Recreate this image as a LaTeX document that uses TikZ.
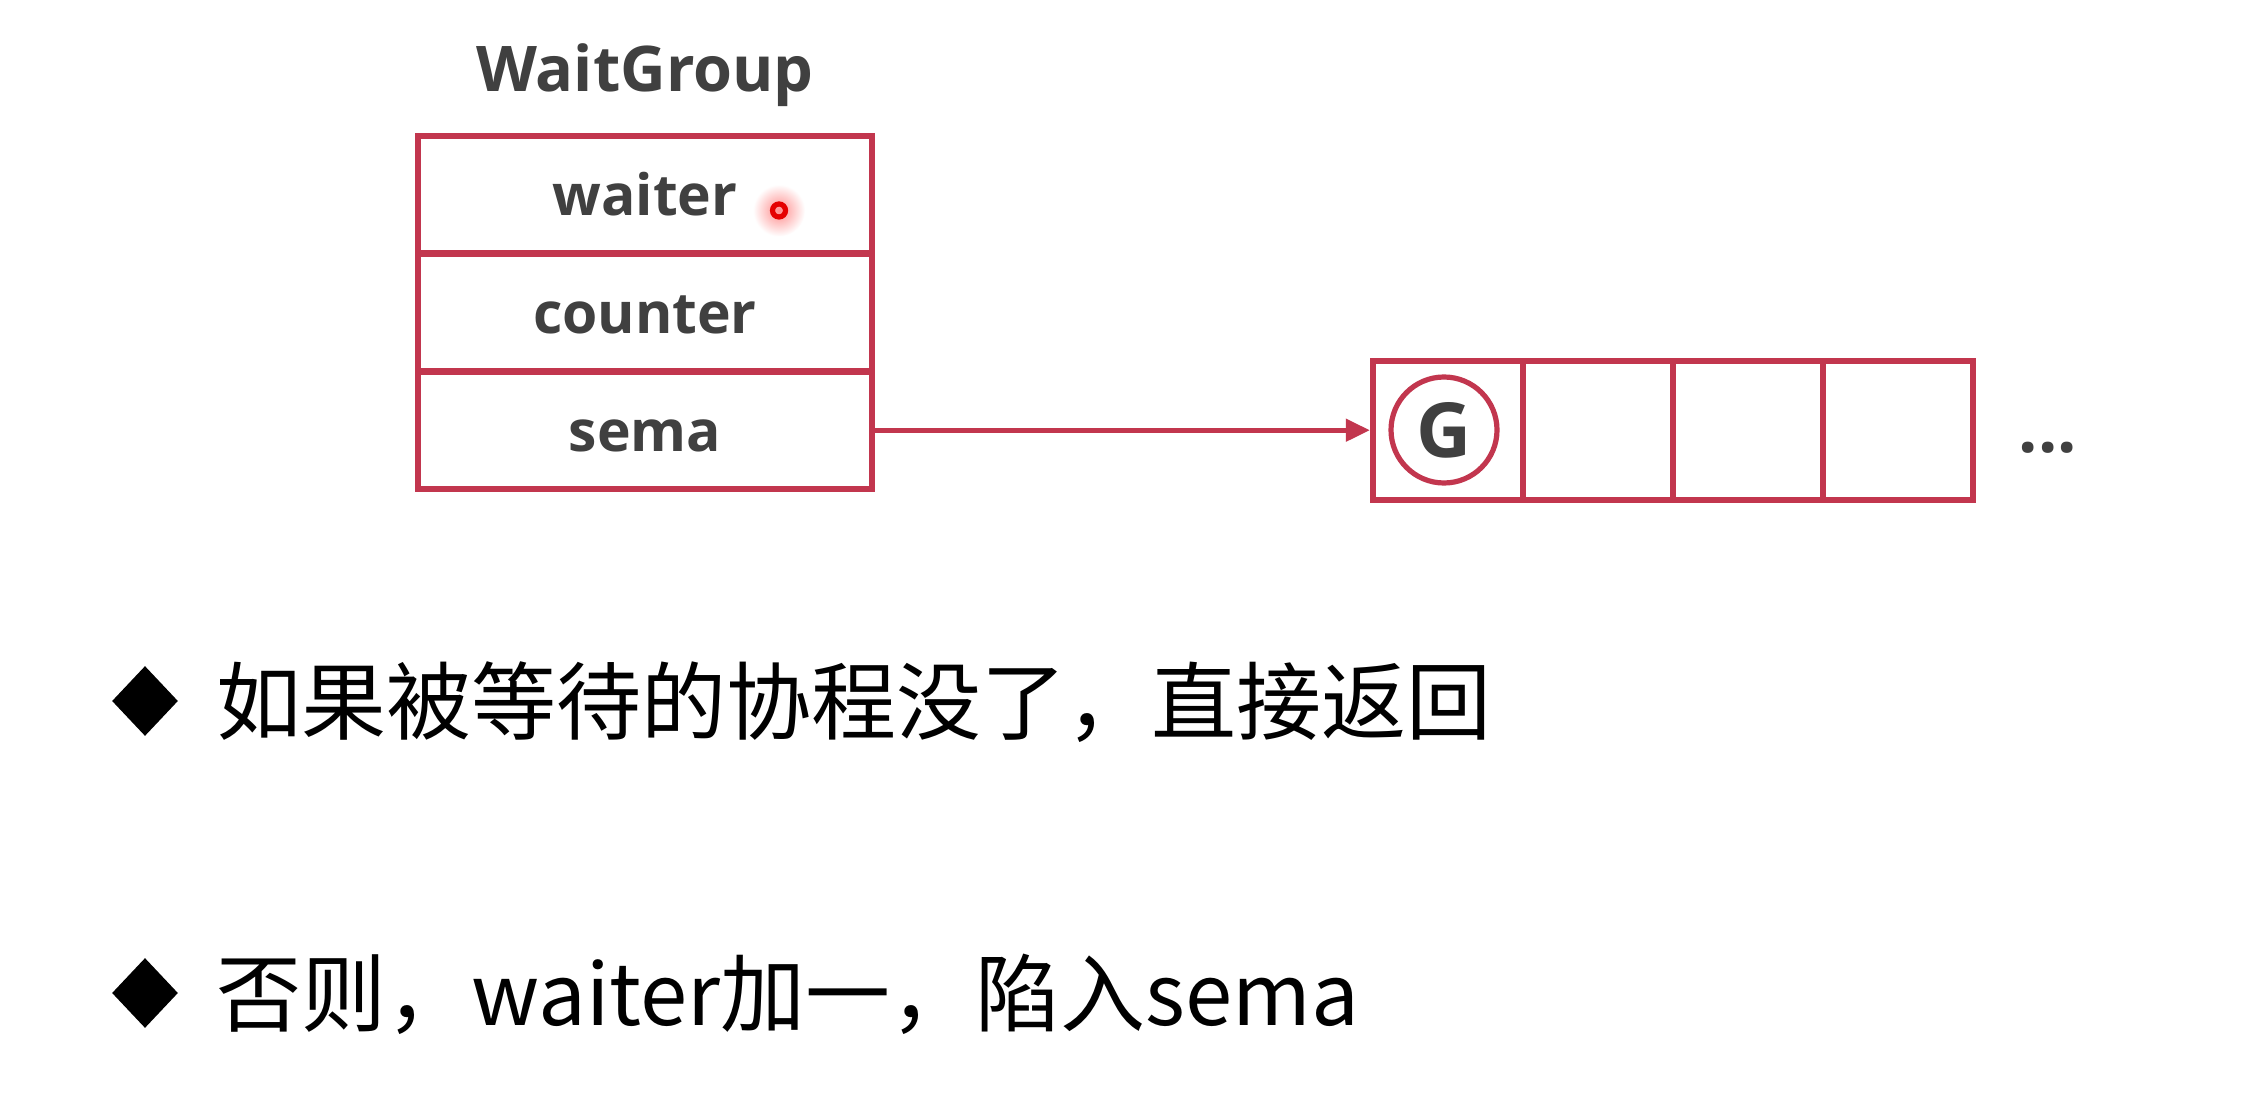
\documentclass[tikz,border=0pt]{standalone}
\usepackage{fontspec}
\setmainfont{Open Sans}
\newfontfamily\cjk{Noto Sans CJK SC}
\usetikzlibrary{shapes.geometric,arrows.meta}
\definecolor{wgred}{RGB}{194,54,78}
\definecolor{wgtext}{RGB}{64,64,64}
\begin{document}
\begin{tikzpicture}[x=0.5pt,y=-0.5pt,
  field/.style={draw=wgred, line width=3.2pt, minimum width=227pt, minimum height=58.8pt,
    inner sep=0pt, text height=21pt, text depth=0pt,
    font=\fontsize{28.5}{30}\selectfont\bfseries, text=wgtext},
  slot/.style={draw=wgred, line width=3.2pt, minimum width=75pt, minimum height=69.5pt, inner sep=0pt},
  gnode/.style={circle, draw=wgred, line width=2.6pt, minimum size=53pt, inner sep=0pt,
    font=\fontsize{38}{40}\selectfont\bfseries, text=wgtext},
  bulletmark/.style={diamond, fill=black, minimum width=33pt, minimum height=35pt, inner sep=0pt},
  bullettext/.style={anchor=base west, inner sep=0pt, font=\cjk\fontsize{42.5}{45}\selectfont, text=black},
  titletext/.style={anchor=base, inner sep=0pt, font=\fontsize{31.5}{33}\selectfont\bfseries, text=wgtext}]
\fill[white] (0,0) rectangle (2242,1106);
\useasboundingbox (0,0) rectangle (2242,1106);

% WaitGroup struct
\node[titletext] (title) at (645,92) {WaitGroup};
\node[field] (waiter)  at (645,194.8) {waiter};
\node[field] (counter) at (645,312.5) {counter};
\node[field] (sema)    at (645,430.2) {sema};

% laser pointer
\shade[inner color=red!45, outer color=white] (779,210.5) circle (26);
\draw[red!90!black, line width=2.6pt] (779,210.5) circle (6.5);

% semaphore queue
\node[slot] (s1) at (1448,430.5) {};
\node[slot] (s2) at (1598,430.5) {};
\node[slot] (s3) at (1748,430.5) {};
\node[slot] (s4) at (1898,430.5) {};
\node[gnode] (g) at (1444,430) {G};
\node[anchor=base, inner sep=0pt, font=\fontsize{34}{36}\selectfont\bfseries, text=wgtext] (dots) at (2048,453) {...};

\draw[wgred, line width=2.5pt, -{Triangle[length=12pt,width=11pt]}] (sema.east) -- (sema.east -| s1.west);

% bullets
\node[bulletmark] (b1) at (145,701) {};
\node[bullettext] (t1) at (216,733) {如果被等待的协程没了，直接返回};
\node[bulletmark] (b2) at (145,993) {};
\node[bullettext] (t2) at (216,1025) {否则，waiter加一，陷入sema};
\end{tikzpicture}
\end{document}
